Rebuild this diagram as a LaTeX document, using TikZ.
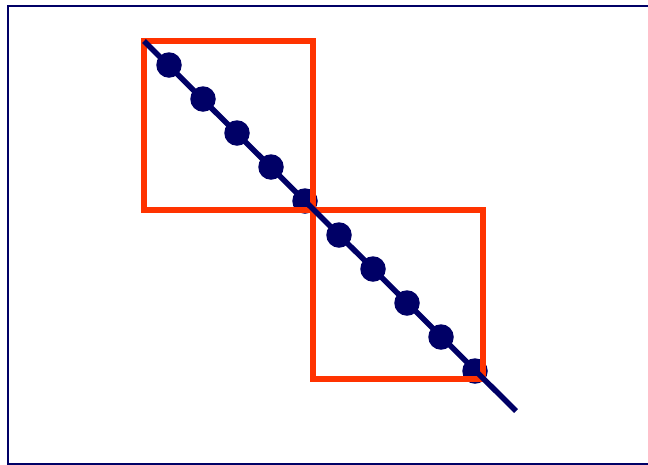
\documentclass[tikz,border=0pt]{standalone}
\definecolor{navyc}{RGB}{0,0,102}
\definecolor{redc}{RGB}{255,51,0}
\begin{document}
\begin{tikzpicture}[x=1pt,y=-1pt,
  dotc/.style={circle,fill=navyc,inner sep=0pt,minimum size=25.5pt},
  sq/.style={draw=redc,line width=5.5pt},
  diag/.style={draw=navyc,line width=5.5pt},
  frame/.style={draw=navyc,line width=2pt}]
\useasboundingbox (0,0) rectangle (648,464);
\clip (0,0) rectangle (648,464);
\draw[frame] (8,6) rectangle (652,464.2);
\foreach \k in {0,...,9} {
  \node[dotc] (d\k) at ({169+34*\k},{65+34*\k}) {};
}
\draw[sq] (144,41) rectangle (313,210);
\draw[sq] (313,210) rectangle (483,379);
\coordinate (s) at (144,41);
\coordinate (e) at (516,411);
\draw[diag] (s) -- (e);
\end{tikzpicture}
\end{document}
